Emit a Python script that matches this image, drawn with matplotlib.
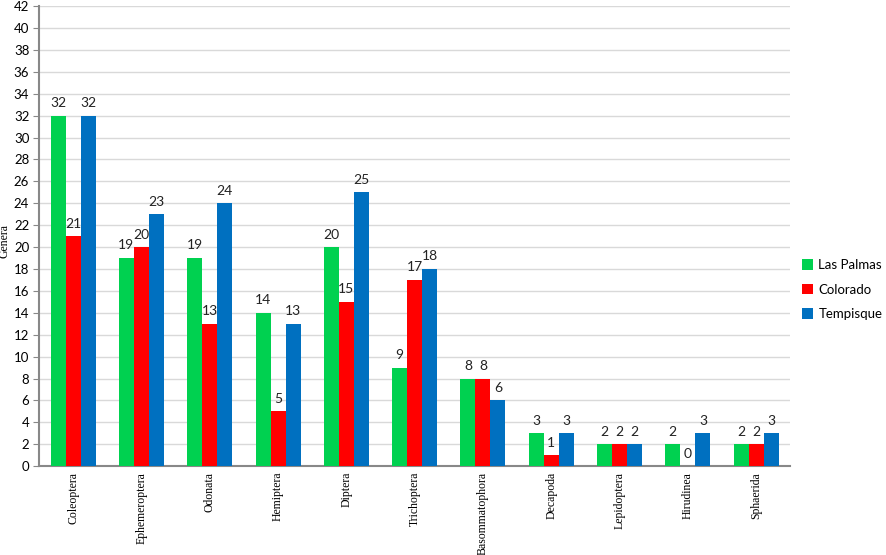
import numpy as np
import matplotlib.pyplot as plt

orders = ['Coleoptera', 'Ephemeroptera', 'Odonata', 'Hemiptera', 'Diptera', 'Trichoptera',
          'Basommatophora', 'Decapoda', 'Lepidoptera', 'Hirudinea', 'Sphaerida']
las_palmas = [32, 19, 19, 14, 20, 9, 8, 3, 2, 2, 2]
colorado = [21, 20, 13, 5, 15, 17, 8, 1, 2, 0, 2]
tempisque = [32, 23, 24, 13, 25, 18, 6, 3, 2, 3, 3]
series = ['Las Palmas', 'Colorado', 'Tempisque']
colors = ['#00D150', '#FF0000', '#0070C0']

fig = plt.figure(figsize=(8.86, 5.55), dpi=100)
ax = fig.add_axes([0.044, 0.160, 0.848, 0.829])

x = np.arange(len(orders))
w = 0.22
for i, (vals, name) in enumerate(zip([las_palmas, colorado, tempisque], series)):
    bars = ax.bar(x + (i - 1) * w, vals, w, color=colors[i], label=name, zorder=3)
    for b, v in zip(bars, vals):
        ax.text(b.get_x() + b.get_width() / 2, v + 0.6, str(v), ha='center', va='bottom',
                fontsize=10, family='Lato', color='#222222')

ax.set_xlim(-0.5, len(orders) - 0.5)
ax.set_ylim(0, 42)
ax.set_yticks(np.arange(0, 43, 2))
ax.yaxis.grid(True, color='#D9D9D9', linewidth=1, zorder=0)
ax.set_xticks(x)
ax.set_xticklabels(orders, rotation=90, family='Liberation Serif', fontsize=8.5)
ax.tick_params(axis='x', length=0, pad=4)
ax.tick_params(axis='y', length=4, color='#888888', labelsize=9.5, pad=3)
for lab in ax.get_yticklabels():
    lab.set_family('Lato')
for s in ['top', 'right']:
    ax.spines[s].set_visible(False)
ax.spines['left'].set_color('#888888')
ax.spines['bottom'].set_color('#888888')
ax.spines['left'].set_linewidth(1.5)
ax.spines['bottom'].set_linewidth(1.5)
ax.set_ylabel('Genera', family='Liberation Serif', fontsize=8.5)
ax.yaxis.set_label_coords(-0.038, 0.49)

fig.legend(loc='center left', bbox_to_anchor=(0.905, 0.478), frameon=False, borderpad=0,
           borderaxespad=0, prop={'family': 'Lato', 'size': 9.5}, handlelength=0.85,
           handleheight=0.85, handletextpad=0.4, labelspacing=0.95)

fig.savefig('out.png', dpi=100)
